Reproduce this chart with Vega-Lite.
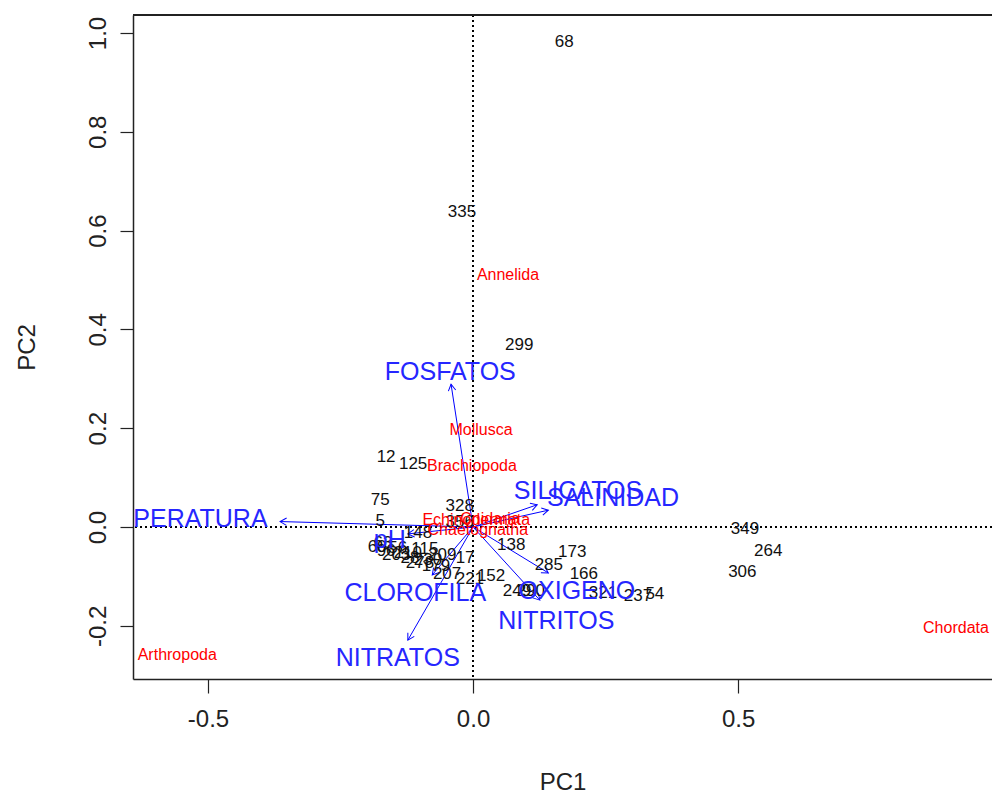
{
  "$schema": "https://vega.github.io/schema/vega-lite/v6.json",
  "width": 859,
  "height": 664,
  "autosize": {"type": "none"},
  "padding": {"left": 133, "top": 15, "right": 0, "bottom": 117},
  "background": "white",
  "datasets": {
    "sites": [
      {"lab": "68", "PC1": 0.172, "PC2": 0.982},
      {"lab": "335", "PC1": -0.021, "PC2": 0.638},
      {"lab": "299", "PC1": 0.087, "PC2": 0.368},
      {"lab": "12", "PC1": -0.164, "PC2": 0.142},
      {"lab": "125", "PC1": -0.113, "PC2": 0.128},
      {"lab": "75", "PC1": -0.175, "PC2": 0.055},
      {"lab": "328", "PC1": -0.025, "PC2": 0.043},
      {"lab": "5", "PC1": -0.175, "PC2": 0.012},
      {"lab": "349", "PC1": 0.513, "PC2": -0.004},
      {"lab": "264", "PC1": 0.557, "PC2": -0.049},
      {"lab": "306", "PC1": 0.508, "PC2": -0.091},
      {"lab": "138", "PC1": 0.072, "PC2": -0.036},
      {"lab": "173", "PC1": 0.187, "PC2": -0.051},
      {"lab": "285", "PC1": 0.143, "PC2": -0.077},
      {"lab": "166", "PC1": 0.209, "PC2": -0.095},
      {"lab": "321", "PC1": 0.245, "PC2": -0.134},
      {"lab": "237", "PC1": 0.311, "PC2": -0.140},
      {"lab": "54", "PC1": 0.343, "PC2": -0.136},
      {"lab": "249", "PC1": 0.083, "PC2": -0.130},
      {"lab": "290", "PC1": 0.109, "PC2": -0.130},
      {"lab": "152", "PC1": 0.034, "PC2": -0.099},
      {"lab": "221", "PC1": -0.006, "PC2": -0.105},
      {"lab": "207", "PC1": -0.049, "PC2": -0.095},
      {"lab": "356", "PC1": -0.025, "PC2": 0.010},
      {"lab": "60", "PC1": -0.181, "PC2": -0.040},
      {"lab": "63", "PC1": -0.170, "PC2": -0.032},
      {"lab": "96", "PC1": -0.164, "PC2": -0.049},
      {"lab": "56", "PC1": -0.142, "PC2": -0.043},
      {"lab": "203", "PC1": -0.145, "PC2": -0.057},
      {"lab": "210", "PC1": -0.123, "PC2": -0.053},
      {"lab": "148", "PC1": -0.104, "PC2": -0.012},
      {"lab": "115", "PC1": -0.091, "PC2": -0.045},
      {"lab": "209", "PC1": -0.058, "PC2": -0.057},
      {"lab": "17", "PC1": -0.015, "PC2": -0.063},
      {"lab": "278", "PC1": -0.100, "PC2": -0.073},
      {"lab": "179", "PC1": -0.070, "PC2": -0.079},
      {"lab": "28", "PC1": -0.119, "PC2": -0.063},
      {"lab": "230", "PC1": -0.085, "PC2": -0.067}
    ],
    "taxa": [
      {"lab": "Annelida", "PC1": 0.066, "PC2": 0.510},
      {"lab": "Mollusca", "PC1": 0.015, "PC2": 0.196},
      {"lab": "Brachiopoda", "PC1": -0.002, "PC2": 0.123},
      {"lab": "Echinodermata", "PC1": 0.006, "PC2": 0.014},
      {"lab": "Cnidaria", "PC1": 0.032, "PC2": 0.016},
      {"lab": "Chaetognatha", "PC1": 0.009, "PC2": -0.006},
      {"lab": "Chordata", "PC1": 0.911, "PC2": -0.204},
      {"lab": "Arthropoda", "PC1": -0.558, "PC2": -0.259}
    ],
    "vars": [
      {"lab": "FOSFATOS", "PC1": -0.0415, "PC2": 0.289, "lx": -0.043, "ly": 0.314},
      {"lab": "TEMPERATURA", "PC1": -0.364, "PC2": 0.011, "lx": -0.564, "ly": 0.016},
      {"lab": "SILICATOS", "PC1": 0.121, "PC2": 0.045, "lx": 0.198, "ly": 0.073},
      {"lab": "SALINIDAD", "PC1": 0.142, "PC2": 0.034, "lx": 0.264, "ly": 0.059},
      {"lab": "OXIGENO", "PC1": 0.142, "PC2": -0.093, "lx": 0.196, "ly": -0.130},
      {"lab": "NITRITOS", "PC1": 0.126, "PC2": -0.148, "lx": 0.157, "ly": -0.190},
      {"lab": "CLOROFILA", "PC1": -0.077, "PC2": -0.097, "lx": -0.109, "ly": -0.134},
      {"lab": "NITRATOS", "PC1": -0.123, "PC2": -0.229, "lx": -0.142, "ly": -0.265},
      {"lab": "pH", "PC1": -0.123, "PC2": -0.014, "lx": -0.157, "ly": -0.026}
    ]
  },
  "layer": [
    {
      "data": {"name": "sites"},
      "mark": {"type": "rule", "color": "black", "strokeDash": [2, 3], "strokeWidth": 1.2},
      "encoding": {
        "y": {"datum": 0, "type": "quantitative", "title": "PC2", "scale": {"domain": [-0.3077, 1.0364], "nice": false, "zero": false}, "axis": {"values": [-0.2, 0, 0.2, 0.4, 0.6, 0.8, 1.0]}}
      }
    },
    {
      "data": {"name": "sites"},
      "mark": {"type": "rule", "color": "black", "strokeDash": [2, 3], "strokeWidth": 1.2},
      "encoding": {
        "x": {"datum": 0, "type": "quantitative", "title": "PC1", "scale": {"domain": [-0.6415, 0.979], "nice": false, "zero": false}, "axis": {"values": [-0.5, 0, 0.5]}}
      }
    },
    {
      "data": {"name": "sites"},
      "mark": {"type": "rule", "color": "#222", "strokeWidth": 1.5},
      "encoding": {
        "y": {"datum": 1.0364, "type": "quantitative", "title": "PC2", "scale": {"domain": [-0.3077, 1.0364], "nice": false, "zero": false}, "axis": {"values": [-0.2, 0, 0.2, 0.4, 0.6, 0.8, 1.0]}}
      }
    },
    {
      "data": {"name": "vars"},
      "mark": {"type": "rule", "color": "#0000FF", "strokeWidth": 1},
      "encoding": {
        "x": {"field": "PC1", "type": "quantitative", "title": "PC1", "scale": {"domain": [-0.6415, 0.979], "nice": false, "zero": false}, "axis": {"values": [-0.5, 0, 0.5]}},
        "y": {"field": "PC2", "type": "quantitative", "title": "PC2", "scale": {"domain": [-0.3077, 1.0364], "nice": false, "zero": false}, "axis": {"values": [-0.2, 0, 0.2, 0.4, 0.6, 0.8, 1.0]}},
        "x2": {"datum": 0},
        "y2": {"datum": 0}
      }
    },
    {
      "data": {"name": "vars"},
      "transform": [{"calculate": "atan2(datum.PC1 * 530, datum.PC2 * 494) * 180 / PI", "as": "ang"}],
      "mark": {"type": "point", "shape": "M -0.5 0.866 L 0 0 L 0.5 0.866", "filled": false, "color": "#0000FF", "strokeWidth": 1, "size": 220, "opacity": 1},
      "encoding": {
        "x": {"field": "PC1", "type": "quantitative", "title": "PC1", "scale": {"domain": [-0.6415, 0.979], "nice": false, "zero": false}, "axis": {"values": [-0.5, 0, 0.5]}},
        "y": {"field": "PC2", "type": "quantitative", "title": "PC2", "scale": {"domain": [-0.3077, 1.0364], "nice": false, "zero": false}, "axis": {"values": [-0.2, 0, 0.2, 0.4, 0.6, 0.8, 1.0]}},
        "angle": {"field": "ang", "type": "quantitative", "scale": null}
      }
    },
    {
      "data": {"name": "sites"},
      "mark": {"type": "text", "color": "#111", "fontSize": 17, "font": "Liberation Sans", "align": "center", "baseline": "middle", "clip": true},
      "encoding": {
        "x": {"field": "PC1", "type": "quantitative", "title": "PC1", "scale": {"domain": [-0.6415, 0.979], "nice": false, "zero": false}, "axis": {"values": [-0.5, 0, 0.5]}},
        "y": {"field": "PC2", "type": "quantitative", "title": "PC2", "scale": {"domain": [-0.3077, 1.0364], "nice": false, "zero": false}, "axis": {"values": [-0.2, 0, 0.2, 0.4, 0.6, 0.8, 1.0]}},
        "text": {"field": "lab"}
      }
    },
    {
      "data": {"name": "taxa"},
      "mark": {"type": "text", "color": "#FF0000", "fontSize": 16, "font": "Liberation Sans", "align": "center", "baseline": "middle", "clip": true},
      "encoding": {
        "x": {"field": "PC1", "type": "quantitative", "title": "PC1", "scale": {"domain": [-0.6415, 0.979], "nice": false, "zero": false}, "axis": {"values": [-0.5, 0, 0.5]}},
        "y": {"field": "PC2", "type": "quantitative", "title": "PC2", "scale": {"domain": [-0.3077, 1.0364], "nice": false, "zero": false}, "axis": {"values": [-0.2, 0, 0.2, 0.4, 0.6, 0.8, 1.0]}},
        "text": {"field": "lab"}
      }
    },
    {
      "data": {"name": "vars"},
      "mark": {"type": "text", "color": "#2626FF", "fontSize": 25, "font": "Liberation Sans", "align": "center", "baseline": "middle", "clip": true},
      "encoding": {
        "x": {"field": "lx", "type": "quantitative", "title": "PC1", "scale": {"domain": [-0.6415, 0.979], "nice": false, "zero": false}, "axis": {"values": [-0.5, 0, 0.5]}},
        "y": {"field": "ly", "type": "quantitative", "title": "PC2", "scale": {"domain": [-0.3077, 1.0364], "nice": false, "zero": false}, "axis": {"values": [-0.2, 0, 0.2, 0.4, 0.6, 0.8, 1.0]}},
        "text": {"field": "lab"}
      }
    }
  ],
  "config": {
    "view": {"stroke": null},
    "font": "Liberation Sans",
    "axis": {
      "grid": false,
      "domain": true,
      "domainColor": "#222",
      "domainWidth": 1.5,
      "tickColor": "#222",
      "tickWidth": 1.2,
      "labelColor": "#222",
      "titleColor": "#222",
      "labelFont": "Liberation Sans",
      "titleFont": "Liberation Sans",
      "labelFontSize": 24,
      "titleFontSize": 24,
      "titleFontWeight": "normal",
      "labelFlush": false,
      "labelOverlap": false,
      "format": ".1f",
      "labelExpr": "replace(datum.label, '\u2212', '-')"
    },
    "axisX": {"tickSize": 14, "labelPadding": 14, "titlePadding": 39},
    "axisY": {"tickSize": 13, "labelAngle": -90, "labelAlign": "center", "labelBaseline": "bottom", "labelPadding": 10, "titlePadding": 47}
  }
}
